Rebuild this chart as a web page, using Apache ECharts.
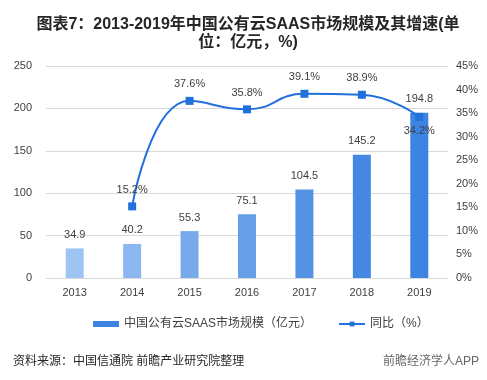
<!DOCTYPE html>
<html><head><meta charset="utf-8">
<script src="https://cdn.jsdelivr.net/npm/echarts@6/dist/echarts.min.js"></script>
<style>html,body{margin:0;padding:0;background:#fff}#c{width:487px;height:380px}</style>
</head><body><div id="c"></div>
<script>
const categories = ['2013','2014','2015','2016','2017','2018','2019'];
const marketSize = [34.9, 40.2, 55.3, 75.1, 104.5, 145.2, 194.8];
const growth = [null, 15.2, 37.6, 35.8, 39.1, 38.9, 34.2];
const leftTicks = {min: 0, max: 250, interval: 50};
const rightTicks = {min: 0, max: 45, interval: 5};
const barColors = ['#9ec4f4','#8cb7f0','#78a9eb','#679ee8','#5492e6','#4488e4','#3d83e2'];

const font = '"Liberation Sans","Noto Sans CJK SC",sans-serif';
const chart = echarts.init(document.getElementById('c'));
chart.setOption({
  animation: false,
  textStyle: {fontFamily: font},
  title: [{
    text: '图表7：2013-2019年中国公有云SAAS市场规模及其增速(单\n位：亿元，%)',
    left: 243, top: 11, textAlign: 'center',
    textStyle: {fontSize: 16, fontWeight: 'bold', color: '#262626', lineHeight: 18, fontFamily: font, align: 'center'}
  }, {
    text: '资料来源：中国信通院 前瞻产业研究院整理',
    left: 8, top: 351,
    textStyle: {fontSize: 12, fontWeight: 'normal', color: '#262626', fontFamily: font}
  }, {
    text: '前瞻经济学人APP',
    right: 3, top: 351,
    textStyle: {fontSize: 12, fontWeight: 'normal', color: '#666', fontFamily: font}
  }],
  legend: {
    top: 313, left: 88,
    itemGap: 26,
    textStyle: {fontSize: 12, color: '#404040'},
    data: [
      {name: '中国公有云SAAS市场规模（亿元）', icon: 'rect', itemStyle: {color: '#3d83e2'}},
      {name: '同比（%）'}
    ],
    itemWidth: 26, itemHeight: 6
  },
  grid: {left: 46, right: 39, top: 66, bottom: 102},
  xAxis: {
    type: 'category', data: categories,
    axisLine: {lineStyle: {color: '#d9d9d9'}},
    axisTick: {show: false},
    axisLabel: {color: '#404040', fontSize: 11, margin: 9}
  },
  yAxis: [{
    type: 'value', min: leftTicks.min, max: leftTicks.max, interval: leftTicks.interval,
    axisLine: {show: false}, axisTick: {show: false},
    axisLabel: {color: '#404040', fontSize: 11, margin: 14},
    splitLine: {lineStyle: {color: '#d9d9d9'}}
  }, {
    type: 'value', min: rightTicks.min, max: rightTicks.max, interval: rightTicks.interval,
    axisLine: {show: false}, axisTick: {show: false},
    axisLabel: {color: '#404040', fontSize: 11, formatter: '{value}%', margin: 8},
    splitLine: {show: false}
  }],
  series: [{
    name: '中国公有云SAAS市场规模（亿元）',
    type: 'bar', barWidth: 18,
    data: marketSize.map((v, i) => ({value: v, itemStyle: {color: barColors[i]}})),
    label: {show: true, position: 'top', distance: 8, color: '#404040', fontSize: 11},
    z: 2
  }, {
    name: '同比（%）',
    type: 'line', yAxisIndex: 1, smooth: 0.5,
    data: growth.map((v, i) => i === 6 ? {value: v, label: {position: 'bottom', distance: 5}} : v),
    connectNulls: false,
    symbol: 'rect', symbolSize: 8,
    itemStyle: {color: '#2170dc'},
    lineStyle: {color: '#2170dc', width: 2},
    label: {show: true, position: 'top', distance: 7, color: '#404040', fontSize: 11, formatter: '{c}%'},
    z: 3
  }]
});
</script></body></html>
